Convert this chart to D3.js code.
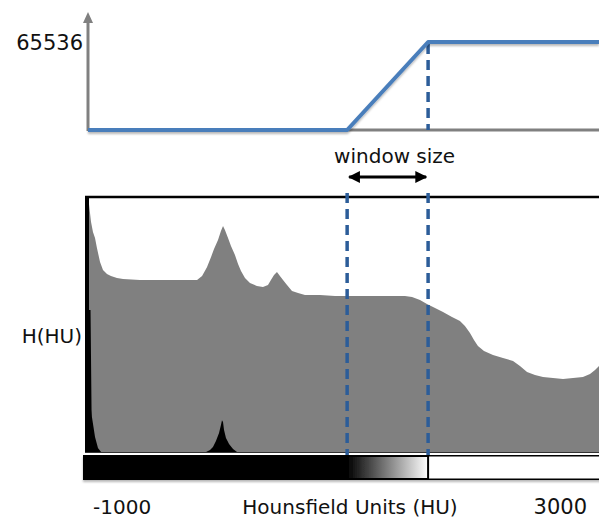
<!DOCTYPE html>
<html>
<head>
<meta charset="utf-8">
<script src="https://cdn.jsdelivr.net/npm/d3@7"></script>
<style>
  body { margin: 0; background: #fff; }
  svg { display: block; }
  text { font-family: "DejaVu Sans", sans-serif; fill: #111; }
</style>
</head>
<body>
<svg id="chart" width="599" height="518"></svg>
<script>
// Histogram of all voxels (grey), in Hounsfield units vs relative frequency
const grayHU = [-1000, -992, -969, -953, -938, -922, -907, -883, -860, -829, -798, -751, -704, -572, -416, -261,
  -128, -89, -51, -19, 4, 35, 58, 74, 89, 113, 136, 167, 191, 214, 245, 284,
  338, 385, 424, 447, 471, 494, 517, 541, 572, 611, 658, 712, 829, 946, 1062, 1218,
  1374, 1490, 1545, 1607, 1661, 1724, 1786, 1856, 1918, 1957, 1996, 2027, 2058, 2105,
  2175, 2253, 2331, 2385, 2440, 2502, 2564, 2642, 2720, 2798, 2875, 2930, 2969, 3000];
const grayCount = [99, 98.8, 97.3, 90.2, 86.3, 83.9, 80.0, 74.5, 71.4, 69.8, 69.0, 68.2, 67.8, 67.5, 67.5, 67.5,
  67.5, 69.0, 72.5, 76.5, 79.6, 83.1, 86.7, 88.6, 87.1, 83.9, 80.8, 77.3, 73.7, 71.0, 68.2, 66.3,
  65.1, 64.7, 65.5, 67.5, 69.4, 70.6, 69.0, 67.5, 65.5, 63.1, 62.4, 61.6, 61.6, 61.2, 61.2, 61.2,
  61.2, 61.2, 60.8, 59.6, 58.0, 56.5, 54.9, 52.9, 51.4, 49.4, 46.7, 43.9, 41.6, 39.6,
  38.0, 36.9, 35.7, 33.7, 31.4, 30.2, 29.4, 29.0, 28.6, 29.0, 29.4, 30.6, 32.2, 33.7];

// Linear-scale histogram (black): air and soft-tissue peaks
const blackHU = [-1000, -957, -949, -946, -922, -899, -875, -58, -27, -4, 19, 43, 58, 66, 74, 82, 97, 121, 152, 183, 3000];
const blackCount = [55.7, 55.7, 16.5, 13.7, 5.9, 1.6, 0, 0, 0.8, 2.0, 4.3, 7.5, 10.6, 12.5, 11.8, 8.6, 5.5, 3.1, 1.2, 0, 0];

// Display window (HU) and output range of the transfer function
const windowRange = [1040, 1670];
const outputMax = 65536;
const huDomain = [-1000, 3000];
const axisLabels = ["-1000", "3000"];

const svg = d3.select("#chart");
const defs = svg.append("defs");

const shadow = defs.append("filter").attr("id", "shadow")
  .attr("x", "-5%").attr("y", "-20%").attr("width", "110%").attr("height", "160%");
shadow.append("feDropShadow").attr("dx", 0).attr("dy", 2).attr("stdDeviation", 1.2)
  .attr("flood-color", "#000").attr("flood-opacity", 0.28);

const grad = defs.append("linearGradient").attr("id", "ramp");
grad.append("stop").attr("offset", "0%").attr("stop-color", "#000");
grad.append("stop").attr("offset", "100%").attr("stop-color", "#fff");

defs.append("marker").attr("id", "head").attr("viewBox", "0 0 10 10")
  .attr("refX", 9).attr("refY", 5).attr("markerWidth", 4).attr("markerHeight", 4)
  .attr("orient", "auto-start-reverse").attr("markerUnits", "strokeWidth")
  .append("path").attr("d", "M0,0 L10,5 L0,10 Z").attr("fill", "#000");

const x = d3.scaleLinear().domain(huDomain).range([85, 599]);
const yHist = d3.scaleLinear().domain([0, 100]).range([452, 197]);
const yTop = d3.scaleLinear().domain([0, outputMax]).range([130, 42]);

const blue = "#4a7ebb";
const dashBlue = "#2c5d99";

// ---- Transfer function (top) ----
const axisX = x(huDomain[0]) + 3;
svg.append("line").attr("x1", axisX).attr("x2", 599)
  .attr("y1", yTop(0)).attr("y2", yTop(0))
  .attr("stroke", "#808080").attr("stroke-width", 3);
svg.append("line").attr("x1", axisX).attr("x2", axisX)
  .attr("y1", yTop(0) + 1).attr("y2", 22)
  .attr("stroke", "#808080").attr("stroke-width", 3);
svg.append("path")
  .attr("d", `M${axisX - 5},23 L${axisX},12 L${axisX + 5},23 Z`)
  .attr("fill", "#808080");

svg.append("text").attr("x", 83).attr("y", 50).attr("text-anchor", "end")
  .attr("font-size", 21).text(String(outputMax));

svg.append("line").attr("x1", x(windowRange[1])).attr("x2", x(windowRange[1]))
  .attr("y1", yTop(outputMax) + 2).attr("y2", yTop(0))
  .attr("stroke", dashBlue).attr("stroke-width", 3.5).attr("stroke-dasharray", "10,6");

const tf = [[huDomain[0], 0], [windowRange[0], 0], [windowRange[1], outputMax], [huDomain[1], outputMax]];
svg.append("path")
  .datum(tf)
  .attr("d", d3.line().x((d, i) => i === 0 ? axisX : x(d[0])).y(d => yTop(d[1])))
  .attr("fill", "none").attr("stroke", blue).attr("stroke-width", 4)
  .attr("stroke-linejoin", "round").attr("filter", "url(#shadow)");

// ---- Window size annotation ----
svg.append("text").attr("x", (x(windowRange[0]) + x(windowRange[1])) / 2 + 7).attr("y", 163)
  .attr("text-anchor", "middle").attr("font-size", 20).text("window size");
svg.append("line").attr("x1", x(windowRange[0]) + 2).attr("x2", x(windowRange[1]) - 2)
  .attr("y1", 177).attr("y2", 177)
  .attr("stroke", "#000").attr("stroke-width", 3)
  .attr("marker-start", "url(#head)").attr("marker-end", "url(#head)");

// ---- Histogram ----
const area = (hu, cnt) => d3.area()
  .x((d, i) => x(hu[i])).y0(yHist(0)).y1((d, i) => yHist(cnt[i]))
  .curve(d3.curveLinear)(cnt);

svg.append("path").attr("d", area(grayHU, grayCount)).attr("fill", "#808080");
svg.append("path").attr("d", area(blackHU, blackCount)).attr("fill", "#000");

// frame
svg.append("line").attr("x1", 85).attr("x2", 599).attr("y1", 197).attr("y2", 197)
  .attr("stroke", "#000").attr("stroke-width", 2.5);
svg.append("line").attr("x1", 87).attr("x2", 87).attr("y1", 196).attr("y2", 453)
  .attr("stroke", "#000").attr("stroke-width", 4);
svg.append("line").attr("x1", 85).attr("x2", 599).attr("y1", 452.5).attr("y2", 452.5)
  .attr("stroke", "#333").attr("stroke-width", 1.2);

svg.append("text").attr("x", 82).attr("y", 343).attr("text-anchor", "end")
  .attr("font-size", 20).text("H(HU)");

// ---- Grey-level bar ----
const barY = 455, barH = 25;
const bar = svg.append("g").attr("filter", "url(#shadow)");
bar.append("rect").attr("x", x(huDomain[0]) - 2).attr("y", barY)
  .attr("width", x(windowRange[0]) - x(huDomain[0]) + 2).attr("height", barH).attr("fill", "#000");
bar.append("rect").attr("x", x(windowRange[1])).attr("y", barY + 0.75)
  .attr("width", 599 - x(windowRange[1]) + 5).attr("height", barH - 1.5)
  .attr("fill", "#fff").attr("stroke", "#000").attr("stroke-width", 1.5);
bar.append("rect").attr("x", x(windowRange[0])).attr("y", barY + 1)
  .attr("width", x(windowRange[1]) - x(windowRange[0])).attr("height", barH - 2)
  .attr("fill", "url(#ramp)").attr("stroke", "#000").attr("stroke-width", 2);

// window boundaries through histogram
windowRange.forEach(v => {
  svg.append("line").attr("x1", x(v)).attr("x2", x(v)).attr("y1", 193).attr("y2", barY)
    .attr("stroke", dashBlue).attr("stroke-width", 3.5).attr("stroke-dasharray", "10,6");
});

// ---- Axis labels ----
svg.append("text").attr("x", x(huDomain[0]) + 8).attr("y", 514)
  .attr("font-size", 20).text(axisLabels[0]);
svg.append("text").attr("x", x(huDomain[1]) - 12).attr("y", 514).attr("text-anchor", "end")
  .attr("font-size", 21).text(axisLabels[1]);
svg.append("text").attr("x", 350).attr("y", 514).attr("text-anchor", "middle")
  .attr("font-size", 20).text("Hounsfield Units (HU)");
</script>
</body>
</html>
